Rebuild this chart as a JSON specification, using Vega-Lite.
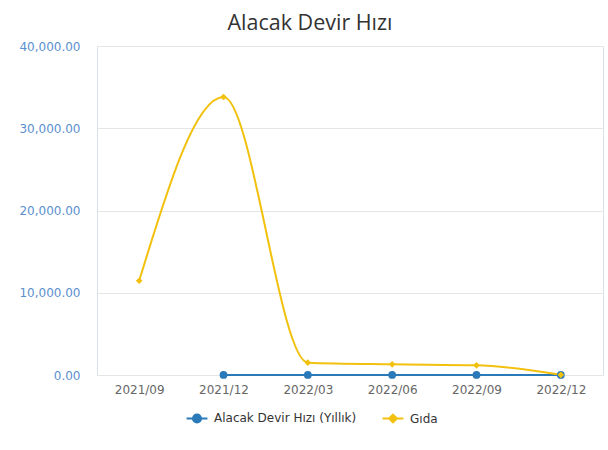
{
  "$schema": "https://vega.github.io/schema/vega-lite/v6.json",
  "width": 506,
  "height": 329,
  "autosize": {"type": "none"},
  "padding": {"left": 97, "top": 46, "right": 5, "bottom": 75},
  "background": "white",
  "config": {
    "view": {"stroke": "#d6e0ee", "strokeWidth": 1},
    "font": "DejaVu Sans"
  },
  "title": {
    "text": "Alacak Devir Hızı",
    "fontSize": 21.5,
    "fontWeight": "normal",
    "color": "#333333",
    "font": "Open Sans",
    "anchor": "middle",
    "offset": 6,
    "dx": -40
  },
  "data": {
    "values": [
      {"date": "2021/12", "series": "Alacak Devir Hızı (Yıllık)", "value": 10},
      {"date": "2022/03", "series": "Alacak Devir Hızı (Yıllık)", "value": 10},
      {"date": "2022/06", "series": "Alacak Devir Hızı (Yıllık)", "value": 10},
      {"date": "2022/09", "series": "Alacak Devir Hızı (Yıllık)", "value": 10},
      {"date": "2022/12", "series": "Alacak Devir Hızı (Yıllık)", "value": 10},
      {"date": "2021/09", "series": "Gıda", "value": 11460},
      {"date": "2021/12", "series": "Gıda", "value": 33800},
      {"date": "2022/03", "series": "Gıda", "value": 1500},
      {"date": "2022/06", "series": "Gıda", "value": 1300},
      {"date": "2022/09", "series": "Gıda", "value": 1180},
      {"date": "2022/12", "series": "Gıda", "value": 20}
    ]
  },
  "encoding": {
    "x": {
      "field": "date",
      "type": "ordinal",
      "sort": ["2021/09", "2021/12", "2022/03", "2022/06", "2022/09", "2022/12"],
      "scale": {"type": "point", "padding": 0.5},
      "axis": {
        "title": null,
        "labelAngle": 0,
        "domain": false,
        "ticks": false,
        "grid": false,
        "labelColor": "#666666",
        "labelFontSize": 12,
        "labelPadding": 9
      }
    },
    "y": {
      "field": "value",
      "type": "quantitative",
      "scale": {"domain": [0, 40000], "nice": false},
      "axis": {
        "title": null,
        "values": [0, 10000, 20000, 30000, 40000],
        "format": ",.2f",
        "domain": false,
        "ticks": false,
        "gridColor": "#e6e6e6",
        "labelColor": "#5b8fcf",
        "labelFontSize": 12,
        "labelPadding": 17
      }
    },
    "color": {
      "field": "series",
      "type": "nominal",
      "scale": {
        "domain": ["Alacak Devir Hızı (Yıllık)", "Gıda"],
        "range": ["#2a7ab9", "#f2c10e"]
      },
      "legend": {
        "title": null,
        "orient": "none",
        "direction": "horizontal",
        "legendX": 92,
        "legendY": 364,
        "labelFontSize": 12,
        "labelColor": "#333333",
        "labelOffset": 9,
        "columnPadding": 21,
        "symbolSize": 170,
        "symbolStrokeWidth": 2,
        "symbolType": "M-1.6,0L1.6,0M0.62,0A0.62,0.62 0 1 1 -0.62,0A0.62,0.62 0 1 1 0.62,0Z",
        "encode": {
          "symbols": {
            "update": {
              "shape": {"signal": "datum.value === 'Gıda' ? 'M-1.6,0L1.6,0M0,-0.6L0.6,0L0,0.6L-0.6,0Z' : 'M-1.6,0L1.6,0M0.62,0A0.62,0.62 0 1 1 -0.62,0A0.62,0.62 0 1 1 0.62,0Z'"},
              "fill": {"signal": "datum.value === 'Gıda' ? '#f2c10e' : '#2a7ab9'"},
              "stroke": {"signal": "datum.value === 'Gıda' ? '#f2c10e' : '#2a7ab9'"},
              "strokeWidth": {"value": 2},
              "strokeOpacity": {"value": 1},
              "fillOpacity": {"value": 1},
              "opacity": {"value": 1}
            }
          }
        }
      }
    }
  },
  "layer": [
    {
      "mark": {"type": "line", "interpolate": "monotone", "strokeWidth": 2}
    },
    {
      "transform": [{"filter": "datum.series !== 'Gıda'"}],
      "mark": {"type": "point", "filled": true, "opacity": 1, "shape": "circle", "size": 60}
    },
    {
      "transform": [{"filter": "datum.series === 'Gıda'"}],
      "mark": {"type": "point", "filled": true, "opacity": 1, "shape": "diamond", "size": 45}
    }
  ]
}
